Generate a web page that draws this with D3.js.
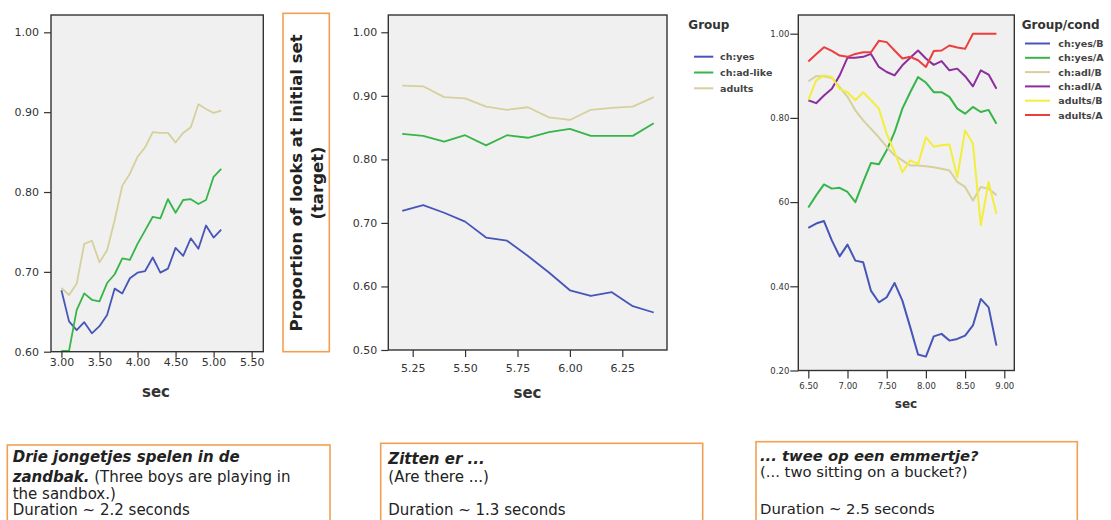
<!DOCTYPE html>
<html>
<head>
<meta charset="utf-8">
<script src="https://cdn.jsdelivr.net/npm/d3@7"></script>
<style>
  html, body { margin: 0; padding: 0; background: #fff; }
  svg { display: block; }
  .tick text { fill: #333; font-family: "DejaVu Sans", Verdana, sans-serif; }
  .tick line { stroke: #333; stroke-width: 1.2; }
</style>
</head>
<body>
<svg id="chart" width="1111" height="520"></svg>
<script>
// ---------- Panel 1: "Drie jongetjes spelen in de zandbak." ----------
const p1Sec = [3.0,3.1,3.2,3.3,3.4,3.5,3.6,3.7,3.8,3.9,4.0,4.1,4.2,4.3,4.4,4.5,4.6,4.7,4.8,4.9,5.0,5.1];
const p1ChYes = [0.677,0.638,0.627,0.637,0.623,0.632,0.646,0.679,0.673,0.692,0.699,0.701,0.718,0.699,0.704,0.730,0.720,0.742,0.729,0.758,0.743,0.753];
const p1ChAdLike = [0.601,0.601,0.652,0.673,0.665,0.663,0.686,0.697,0.717,0.715,0.735,0.752,0.769,0.767,0.791,0.774,0.790,0.791,0.785,0.790,0.819,0.829];
const p1Adults = [0.680,0.671,0.685,0.735,0.739,0.712,0.727,0.765,0.808,0.823,0.844,0.856,0.875,0.874,0.874,0.862,0.874,0.881,0.910,0.904,0.899,0.902];
const p1XTicks = [3.0,3.5,4.0,4.5,5.0,5.5];
const p1YTicks = [0.6,0.7,0.8,0.9,1.0];

// ---------- Panel 2: "Zitten er ..." ----------
const p2Sec = [5.2,5.3,5.4,5.5,5.6,5.7,5.8,5.9,6.0,6.1,6.2,6.3,6.4];
const p2ChYes = [0.719,0.728,0.716,0.702,0.677,0.672,0.648,0.622,0.594,0.585,0.591,0.569,0.559];
const p2ChAdLike = [0.840,0.837,0.828,0.838,0.822,0.838,0.834,0.843,0.848,0.837,0.837,0.837,0.857];
const p2Adults = [0.916,0.915,0.898,0.896,0.883,0.878,0.882,0.866,0.862,0.878,0.881,0.883,0.898];
const p2XTicks = [5.25,5.5,5.75,6.0,6.25];
const p2YTicks = [0.5,0.6,0.7,0.8,0.9,1.0];

// ---------- Panel 3: "... twee op een emmertje?" ----------
const p3Sec = [6.5,6.6,6.7,6.8,6.9,7.0,7.1,7.2,7.3,7.4,7.5,7.6,7.7,7.8,7.9,8.0,8.1,8.2,8.3,8.4,8.5,8.6,8.7,8.8,8.9];
const p3ChYesB = [0.539,0.549,0.555,0.509,0.471,0.499,0.461,0.457,0.389,0.362,0.374,0.408,0.366,0.303,0.238,0.233,0.281,0.287,0.271,0.275,0.283,0.307,0.370,0.350,0.259];
const p3ChYesA = [0.587,0.616,0.642,0.632,0.634,0.624,0.600,0.648,0.693,0.690,0.723,0.766,0.822,0.861,0.897,0.884,0.861,0.861,0.850,0.822,0.810,0.826,0.814,0.819,0.786];
const p3ChAdlB = [0.887,0.899,0.899,0.895,0.873,0.850,0.818,0.794,0.774,0.754,0.731,0.711,0.699,0.687,0.687,0.685,0.683,0.679,0.675,0.648,0.636,0.604,0.636,0.632,0.616];
const p3ChAdlA = [0.842,0.835,0.853,0.869,0.901,0.943,0.943,0.945,0.952,0.921,0.909,0.901,0.925,0.943,0.960,0.941,0.926,0.935,0.913,0.917,0.899,0.875,0.913,0.903,0.869];
const p3AdultsB = [0.842,0.889,0.901,0.897,0.869,0.861,0.842,0.861,0.842,0.822,0.762,0.719,0.671,0.699,0.690,0.754,0.732,0.735,0.737,0.659,0.770,0.739,0.545,0.648,0.572];
const p3AdultsA = [0.934,0.951,0.968,0.959,0.948,0.945,0.952,0.956,0.956,0.983,0.980,0.960,0.941,0.945,0.937,0.921,0.959,0.960,0.972,0.967,0.964,1.000,1.000,1.000,1.000];
const p3XTicks = [6.5,7.0,7.5,8.0,8.5,9.0];
const p3YTicks = [0.2,0.4,0.6,0.8,1.0];
const p3YTickLabels = ["0.20","0.40","60","0.80","1.00"];

// ---------- Legends & texts ----------
const groupNames = ["ch:yes","ch:ad-like","adults"];
const groupCondNames = ["ch:yes/B","ch:yes/A","ch:adl/B","ch:adl/A","adults/B","adults/A"];
const yAxisTitle = ["Proportion of looks at initial set","(target)"];
const xAxisTitle = "sec";

const C = {blue:"#4656b8", green:"#36b548", beige:"#d5d09c", purple:"#8c2e9c", yellow:"#f3ee3c", red:"#ee3d3d"};

const svg = d3.select("#chart");
const font = '"DejaVu Sans", Verdana, sans-serif';

function panel(cfg) {
  const g = svg.append("g");
  const x = d3.scaleLinear().domain(cfg.xDomain).range([cfg.left, cfg.right]);
  const y = d3.scaleLinear().domain(cfg.yDomain).range([cfg.bottom, cfg.top]);
  g.append("rect").attr("x", cfg.left).attr("y", cfg.top)
    .attr("width", cfg.right - cfg.left).attr("height", cfg.bottom - cfg.top)
    .attr("fill", "#f0f0f0");
  const line = d3.line().x(d => x(d[0])).y(d => y(d[1]));
  cfg.series.forEach(s => {
    g.append("path").datum(cfg.xs.map((v, i) => [v, s.values[i]]))
      .attr("d", line).attr("fill", "none").attr("stroke", s.color)
      .attr("stroke-width", cfg.lw).attr("stroke-linejoin", "round");
  });
  g.append("rect").attr("x", cfg.left).attr("y", cfg.top)
    .attr("width", cfg.right - cfg.left).attr("height", cfg.bottom - cfg.top)
    .attr("fill", "none").attr("stroke", "#333").attr("stroke-width", 1.4);
  const ya = d3.axisLeft(y).tickValues(cfg.yTicks).tickSize(cfg.yTickSize).tickPadding(cfg.yPad)
    .tickFormat(cfg.yFmt || d3.format(".2f"));
  const yg = g.append("g").attr("transform", `translate(${cfg.left},0)`).call(ya);
  yg.select(".domain").remove();
  yg.selectAll("text").style("font-size", cfg.fs + "px").style("font-family", font);
  const xa = d3.axisBottom(x).tickValues(cfg.xTicks).tickSize(cfg.xTickSize).tickPadding(cfg.xPad)
    .tickFormat(d3.format(".2f"));
  const xg = g.append("g").attr("transform", `translate(0,${cfg.bottom})`).call(xa);
  xg.select(".domain").remove();
  xg.selectAll("text").style("font-size", cfg.fs + "px").style("font-family", font);
  g.append("text").attr("x", cfg.titleX).attr("y", cfg.titleY)
    .attr("text-anchor", "middle").attr("dominant-baseline", "central")
    .style("font-family", font).style("font-weight", "bold").style("font-size", cfg.titleFs + "px")
    .attr("fill", "#333").text(xAxisTitle);
}

panel({
  left: 51, right: 263.3, top: 15, bottom: 351.7,
  xDomain: [2.863, 5.653], yDomain: [0.6, 1.0217],
  xs: p1Sec,
  series: [{values: p1ChYes, color: C.blue}, {values: p1ChAdLike, color: C.green}, {values: p1Adults, color: C.beige}],
  xTicks: p1XTicks, yTicks: p1YTicks, yTickSize: 7, yPad: 5, xTickSize: 6, xPad: 1,
  fs: 11, lw: 1.8, titleX: 156, titleY: 392, titleFs: 15
});

panel({
  left: 388.3, right: 667, top: 15, bottom: 350,
  xDomain: [5.1336, 6.4633], yDomain: [0.5, 1.0272],
  xs: p2Sec,
  series: [{values: p2ChYes, color: C.blue}, {values: p2ChAdLike, color: C.green}, {values: p2Adults, color: C.beige}],
  xTicks: p2XTicks, yTicks: p2YTicks, yTickSize: 7, yPad: 4, xTickSize: 7, xPad: 7,
  fs: 11, lw: 1.8, titleX: 527.5, titleY: 393, titleFs: 15
});

panel({
  left: 798.3, right: 1014.3, top: 15, bottom: 370.5,
  xDomain: [6.3724, 9.1276], yDomain: [0.2, 1.0444],
  xs: p3Sec,
  series: [{values: p3ChYesB, color: C.blue}, {values: p3ChYesA, color: C.green}, {values: p3ChAdlB, color: C.beige},
           {values: p3ChAdlA, color: C.purple}, {values: p3AdultsB, color: C.yellow}, {values: p3AdultsA, color: C.red}],
  xTicks: p3XTicks, yTicks: p3YTicks, yTickSize: 8, yPad: 1, xTickSize: 8, xPad: 4,
  yFmt: (d) => p3YTickLabels[p3YTicks.indexOf(d)],
  fs: 8.5, lw: 2, titleX: 906, titleY: 404, titleFs: 12
});

// Y-axis title box
svg.append("rect").attr("x", 283).attr("y", 13.3).attr("width", 46.3).attr("height", 338.4)
  .attr("fill", "#fff").attr("stroke", "#f2a050").attr("stroke-width", 1.6);
const yt = svg.append("text").attr("transform", "translate(296.5,183) rotate(-90)")
  .attr("text-anchor", "middle").style("font-family", font).style("font-weight", "bold")
  .style("font-size", "16.5px").attr("fill", "#222");
yt.append("tspan").attr("x", 0).attr("dy", "0.35em").text(yAxisTitle[0]);
yt.append("tspan").attr("x", 0).attr("dy", "21px").text(yAxisTitle[1]);

// Legends
function legend(x0, titleY, title, names, colors, y0, step, x1, x2, tx) {
  svg.append("text").attr("x", x0).attr("y", titleY).attr("dominant-baseline", "central")
    .style("font-family", font).style("font-weight", "bold").style("font-size", "12px")
    .attr("fill", "#333").text(title);
  names.forEach((n, i) => {
    const yy = y0 + i * step;
    svg.append("line").attr("x1", x1).attr("x2", x2).attr("y1", yy).attr("y2", yy)
      .attr("stroke", colors[i]).attr("stroke-width", 2);
    svg.append("text").attr("x", tx).attr("y", yy).attr("dominant-baseline", "central")
      .style("font-family", font).style("font-weight", "bold").style("font-size", "9.5px")
      .attr("fill", "#444").text(n);
  });
}
legend(688.3, 25, "Group", groupNames, [C.blue, C.green, C.beige], 56.7, 15.8, 694, 713.3, 720);
legend(1021.7, 25, "Group/cond", groupCondNames, [C.blue, C.green, C.beige, C.purple, C.yellow, C.red], 43.5, 14.3, 1025, 1050, 1058.3);

// Bottom caption boxes
const boxes = [
  {x: 7.3, y: 445, w: 322.7, tx: 12.7, fs: 15, lines: [
    [{t: "Drie jongetjes spelen in de", b: true}],
    [{t: "zandbak.", b: true}, {t: " (Three boys are playing in", b: false}],
    [{t: "the sandbox.)", b: false}],
    [{t: "Duration ~ 2.2 seconds", b: false}]
  ], ys: [462, 481.5, 499, 515]},
  {x: 380.7, y: 443.3, w: 322, tx: 388.3, fs: 15, lines: [
    [{t: "Zitten er ...", b: true}],
    [{t: "(Are there ...)", b: false}],
    [{t: "Duration ~ 1.3 seconds", b: false}]
  ], ys: [463.5, 482, 515]},
  {x: 756, y: 441.7, w: 321.3, tx: 760, fs: 14.8, lines: [
    [{t: "... twee op een emmertje?", b: true}],
    [{t: "(... two sitting on a bucket?)", b: false}],
    [{t: "Duration ~ 2.5 seconds", b: false}]
  ], ys: [460.5, 477, 514]}
];
boxes.forEach(bx => {
  svg.append("rect").attr("x", bx.x).attr("y", bx.y).attr("width", bx.w).attr("height", 120)
    .attr("fill", "none").attr("stroke", "#f2a050").attr("stroke-width", 1.6);
  bx.lines.forEach((ln, i) => {
    const t = svg.append("text").attr("x", bx.tx).attr("y", bx.ys[i])
      .style("font-family", font).style("font-size", bx.fs + "px").attr("fill", "#222");
    ln.forEach(seg => {
      const s = t.append("tspan").text(seg.t);
      if (seg.b) s.style("font-weight", "bold").style("font-style", "italic");
    });
  });
});
</script>
</body>
</html>
